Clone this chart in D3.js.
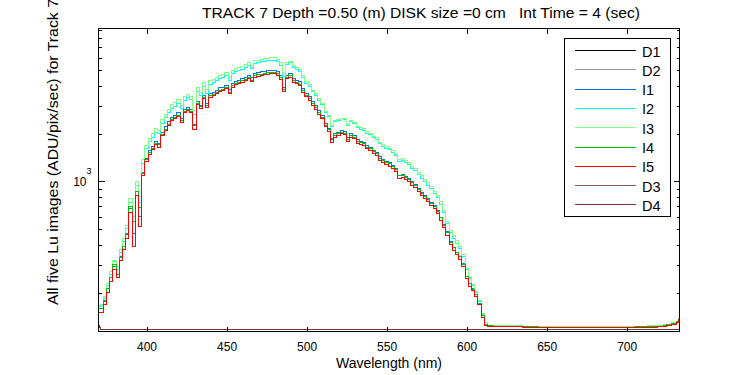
<!DOCTYPE html>
<html>
<head>
<meta charset="utf-8">
<script src="https://cdn.jsdelivr.net/npm/d3@7/dist/d3.min.js"></script>
<style>
  body { margin: 0; background: #fff; }
  text { font-family: "Liberation Sans", Arial, sans-serif; fill: #000; }
</style>
</head>
<body>
<svg id="chart"></svg>
<script>
// wavelength grid (nm) for the five Lu image series
const wavelength = [
  370,372,374,376,378,380,382,384,386,388,390,392,394,396,398,
  400,402,404,406,408,410,412,414,416,418,420,422,424,426,428,
  430,432,434,436,438,440,442,444,446,448,450,452,454,456,458,
  460,462,464,466,468,470,472,474,476,478,480,482,484,486,488,
  490,492,494,496,498,500,502,504,506,508,510,512,514,516,518,
  520,522,524,526,528,530,532,534,536,538,540,542,544,546,548,
  550,552,554,556,558,560,562,564,566,568,570,572,574,576,578,
  580,582,584,586,588,590,592,594,596,598,600,602,604,606,608,
  610,612,614,620,630,640,650,660,670,680,690,700,710,716,722,
  724,726,730,732,733
];

const i1 = [
  160,158,176,212,248,292,262,336,392,465,680,470,860,600,1140,
  1400,1560,1660,1790,1740,2040,2200,2370,2530,2610,2700,2500,2840,2930,2850,
  2280,3200,3020,3480,3100,3560,3650,3740,3870,3920,4030,3760,4120,4260,4330,
  4420,4520,4650,4480,4770,4840,4890,4940,4970,5010,5010,4890,4620,3900,4650,
  4770,4430,4310,4220,3830,3570,3410,3160,2990,2780,2600,2310,2160,1870,2000,
  2040,2090,2060,1880,1990,1940,1830,1780,1760,1680,1645,1575,1530,1430,1375,
  1335,1310,1260,1205,1095,1110,1080,1045,995,963,900,858,815,780,738,
  704,655,597,534,482,419,387,360,338,304,254,228,211,195,172,
  143,126,123,123,122,121,121,121,121,121,121,121,121,122,122,
  123,125,127,130,134
];

const i2 = [
  163,165,185,222,262,312,280,360,420,505,740,560,950,740,1300,
  1600,1780,1900,2040,2000,2330,2510,2700,2880,2980,3080,2860,3250,3350,3260,
  2640,3680,3460,3980,3560,4090,4190,4300,4440,4500,4620,4320,4740,4890,4970,
  5080,5200,5350,5160,5490,5580,5640,5700,5740,5780,5790,5670,5380,4560,5420,
  5560,5180,5050,4940,4500,4140,3960,3680,3490,3250,3050,2720,2550,2230,2370,
  2420,2470,2440,2250,2370,2310,2180,2130,2100,2010,1970,1890,1840,1730,1660,
  1610,1580,1520,1460,1340,1350,1310,1270,1210,1170,1100,1050,995,950,900,
  840,790,720,640,545,475,440,410,380,338,280,245,222,200,175,
  145,127,124,123,122,121,121,121,121,121,121,121,122,122,123,
  124,126,128,131,135
];

const i3 = [
  165,168,190,228,270,320,290,372,435,525,780,600,1000,800,1370,
  1680,1870,2000,2150,2100,2450,2640,2850,3040,3150,3270,3010,3430,3530,3440,
  2800,3870,3650,4190,3760,4300,4400,4510,4660,4720,4850,4540,4960,5120,5200,
  5310,5430,5580,5390,5720,5800,5860,5910,5950,5980,5990,5850,5560,4760,5580,
  5700,5330,5180,5070,4620,4230,4040,3750,3560,3310,3100,2760,2580,2260,2400,
  2450,2500,2470,2290,2400,2340,2220,2170,2140,2050,2010,1930,1880,1770,1700,
  1650,1620,1560,1500,1380,1390,1350,1310,1250,1210,1140,1085,1030,985,930,
  870,815,745,660,560,490,455,425,392,345,285,250,226,203,178,
  148,129,125,124,124,123,123,123,123,123,123,123,123,124,125,
  126,127,129,132,138
];

const i4 = [
  158,160,178,212,250,300,262,335,390,470,700,560,860,690,1120,
  1370,1510,1610,1730,1700,1980,2130,2290,2440,2530,2610,2430,2750,2830,2760,
  2250,3100,2950,3360,3010,3450,3530,3620,3740,3800,3890,3640,3990,4120,4180,
  4280,4370,4500,4340,4610,4680,4730,4780,4810,4850,4850,4740,4490,3800,4510,
  4620,4300,4180,4090,3720,3470,3320,3070,2910,2700,2530,2250,2110,1830,1950,
  1990,2040,2010,1840,1950,1900,1790,1745,1725,1645,1610,1540,1500,1400,1350,
  1310,1290,1240,1185,1085,1095,1065,1030,980,950,890,845,805,770,728,
  695,648,590,528,478,415,384,357,336,302,253,227,210,195,172,
  143,126,124,123,122,122,121,121,121,121,121,121,122,122,123,
  124,126,128,131,136
];

const i5 = [
  150,150,168,200,235,280,250,320,372,440,640,390,816,520,1090,
  1330,1480,1580,1700,1640,1940,2090,2250,2400,2480,2560,2350,2700,2780,2700,
  2120,3050,2860,3300,2930,3390,3470,3560,3680,3730,3830,3560,3920,4050,4110,
  4200,4300,4420,4250,4530,4600,4650,4690,4720,4760,4760,4650,4400,3680,4420,
  4530,4210,4100,4010,3650,3400,3250,3010,2850,2650,2480,2200,2060,1770,1900,
  1940,1990,1960,1780,1900,1850,1740,1700,1680,1600,1570,1500,1460,1360,1310,
  1270,1250,1200,1150,1040,1060,1030,1000,950,920,860,820,780,745,705,
  673,626,570,510,460,400,370,345,325,292,245,220,205,190,168,
  140,124,123,123,122,121,121,121,121,121,121,121,121,121,122,
  123,125,127,130,135
];

// dark images sit on the floor of the axes
const darkWavelength = [370, 371, 372, 400, 450, 500, 550, 600, 650, 700, 733];
const dark1 = [125, 120, 117, 117, 117, 117, 117, 117, 117, 117, 117];
const dark2 = [125, 120, 117, 117, 117, 117, 117, 117, 117, 117, 117];
const dark3 = [124, 120, 117, 117, 117, 117, 117, 117, 117, 117, 117];
const dark4 = [124, 120, 117, 117, 117, 117, 117, 117, 117, 117, 117];

const seriesNames = ["D1", "D2", "I1", "I2", "I3", "I4", "I5", "D3", "D4"];
const seriesColors = ["#000000", "#999999", "#0a72e0", "#00ffff", "#80ff80", "#00c000", "#ff0000", "#8a5c5c", "#803434"];

const xTicks = [400, 450, 500, 550, 600, 650, 700];
const yMajorTicks = [1000];
const yMinorTicks = [200, 300, 400, 500, 600, 700, 800, 900, 2000, 3000, 4000, 5000, 6000, 7000, 8000, 9000];

const series = [
  { x: darkWavelength, y: dark1 },
  { x: darkWavelength, y: dark2 },
  { x: wavelength, y: i1 },
  { x: wavelength, y: i2 },
  { x: wavelength, y: i3 },
  { x: wavelength, y: i4 },
  { x: wavelength, y: i5 },
  { x: darkWavelength, y: dark3 },
  { x: darkWavelength, y: dark4 }
].map((s, i) => ({
  name: seriesNames[i],
  color: seriesColors[i],
  points: s.x.map((w, j) => ({ w: w, v: s.y[j] }))
}));

const W = 750, H = 375;
const plotLeft = 98.5, plotRight = 679.5, plotTop = 28.5, plotBottom = 331.5;

const svg = d3.select("#chart")
  .attr("width", W)
  .attr("height", H)
  .style("display", "block");

svg.append("rect").attr("width", W).attr("height", H).attr("fill", "#fff");

const xScale = d3.scaleLinear().domain([370, 733]).range([plotLeft, plotRight]);
const yScale = d3.scaleLog().domain([114, 9150]).range([plotBottom, plotTop]);

svg.append("clipPath").attr("id", "plot-clip")
  .append("rect")
  .attr("x", plotLeft).attr("y", plotTop)
  .attr("width", plotRight - plotLeft).attr("height", plotBottom - plotTop);

const line = d3.line()
  .x(d => xScale(d.w))
  .y(d => yScale(d.v))
  .curve(d3.curveStep);

svg.append("g")
  .attr("clip-path", "url(#plot-clip)")
  .selectAll("path")
  .data(series)
  .join("path")
  .attr("d", d => line(d.points))
  .attr("fill", "none")
  .attr("stroke", d => d.color)
  .attr("stroke-width", 1)
  .attr("shape-rendering", "crispEdges");

// axes, ticks pointing inward on all four sides
svg.append("g")
  .attr("transform", `translate(0,${plotBottom})`)
  .call(d3.axisBottom(xScale).tickValues(xTicks).tickSizeInner(-5).tickSizeOuter(0).tickPadding(11))
  .call(g => g.select(".domain").remove())
  .selectAll("text")
  .style("font-size", "12px")
  .style("font-family", "'Liberation Sans', Arial, sans-serif");

svg.append("g")
  .attr("transform", `translate(0,${plotTop})`)
  .call(d3.axisTop(xScale).tickValues(xTicks).tickSizeInner(-5).tickSizeOuter(0).tickFormat(""))
  .call(g => g.select(".domain").remove());

[[d3.axisLeft, plotLeft], [d3.axisRight, plotRight]].forEach(([ax, pos]) => {
  svg.append("g")
    .attr("transform", `translate(${pos},0)`)
    .call(ax(yScale).tickValues(yMinorTicks).tickSizeInner(-3).tickSizeOuter(0).tickFormat(""))
    .call(g => g.select(".domain").remove());
  svg.append("g")
    .attr("transform", `translate(${pos},0)`)
    .call(ax(yScale).tickValues(yMajorTicks).tickSizeInner(-6).tickSizeOuter(0).tickFormat(""))
    .call(g => g.select(".domain").remove());
});

svg.selectAll(".tick line").attr("stroke", "#000").attr("shape-rendering", "crispEdges");

// 10^3 label
yMajorTicks.forEach(t => {
  svg.append("text")
    .attr("x", plotLeft - 12)
    .attr("y", yScale(t) + 5)
    .attr("text-anchor", "end")
    .style("font-size", "12px")
    .text("10");
  svg.append("text")
    .attr("x", plotLeft - 12)
    .attr("y", yScale(t) - 7)
    .style("font-size", "9px")
    .text(Math.round(Math.log10(t)));
});

svg.append("rect")
  .attr("x", plotLeft).attr("y", plotTop)
  .attr("width", plotRight - plotLeft).attr("height", plotBottom - plotTop)
  .attr("fill", "none")
  .attr("stroke", "#000")
  .attr("shape-rendering", "crispEdges");

// texts
svg.append("text")
  .attr("x", 202)
  .attr("y", 18)
  .style("font-size", "14px")
  .style("white-space", "pre")
  .attr("textLength", 438)
  .attr("lengthAdjust", "spacingAndGlyphs")
  .text("TRACK 7 Depth =0.50 (m) DISK size =0 cm   Int Time = 4 (sec)");

svg.append("text")
  .attr("x", (plotLeft + plotRight) / 2)
  .attr("y", 368)
  .attr("text-anchor", "middle")
  .style("font-size", "14px")
  .text("Wavelength (nm)");

svg.append("text")
  .attr("transform", "translate(58,305) rotate(-90)")
  .style("font-size", "15px")
  .attr("textLength", 306)
  .attr("lengthAdjust", "spacingAndGlyphs")
  .text("All five Lu images (ADU/pix/sec) for Track 7");

// legend
const legend = svg.append("g");
legend.append("rect")
  .attr("x", 564.5).attr("y", 38.5)
  .attr("width", 105.5).attr("height", 178)
  .attr("fill", "#fff")
  .attr("stroke", "#000")
  .attr("shape-rendering", "crispEdges");

const rows = legend.selectAll("g.row")
  .data(series)
  .join("g")
  .attr("class", "row")
  .attr("transform", (d, i) => `translate(0,${50.5 + i * 19.3})`);

rows.append("line")
  .attr("x1", 575).attr("x2", 636)
  .attr("stroke", d => d.color)
  .attr("shape-rendering", "crispEdges");

rows.append("text")
  .attr("x", 642)
  .attr("y", 6)
  .style("font-size", "14.5px")
  .text(d => d.name);
</script>
</body>
</html>
